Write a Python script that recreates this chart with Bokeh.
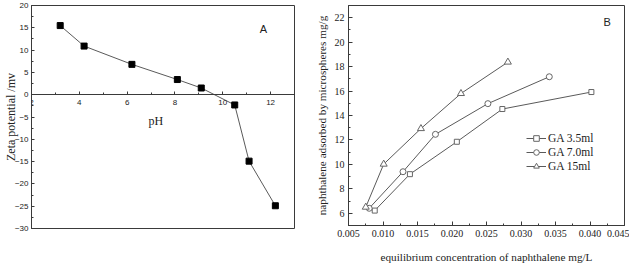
from bokeh.plotting import figure
from bokeh.models import (Range1d, SingleIntervalTicker, Label, Legend, LegendItem,
                          PrintfTickFormatter)
from bokeh.layouts import row
from bokeh.embed import file_html
from bokeh.resources import INLINE

# Panel A data
pH = [3.2, 4.2, 6.2, 8.1, 9.1, 10.5, 11.1, 12.2]
zeta = [15.5, 10.9, 6.8, 3.4, 1.5, -2.3, -14.9, -24.9]

# Panel B data
conc_35 = [0.0088, 0.0139, 0.0207, 0.0273, 0.0402]
ads_35 = [6.22, 9.2, 11.85, 14.53, 15.92]
conc_70 = [0.0080, 0.0129, 0.0176, 0.0252, 0.0341]
ads_70 = [6.41, 9.4, 12.46, 14.97, 17.17]
conc_15 = [0.0075, 0.0101, 0.0155, 0.0213, 0.0281]
ads_15 = [6.5, 10.02, 12.93, 15.8, 18.37]
series_labels = ["GA 3.5ml", "GA 7.0ml", "GA 15ml"]

AX = "#3a3a3a"
LINE = "#5a5a5a"
TXT = "#222222"
SERIF = "Liberation Serif"
SANS = "Liberation Sans"

# ---------------- Panel A ----------------
pA = figure(frame_width=263, frame_height=223, x_range=Range1d(1.9999, 13), y_range=Range1d(-30, 20),
            output_backend="svg", toolbar_location=None,
            min_border_left=31, min_border_right=18, min_border_top=5, min_border_bottom=30)
pA.grid.visible = False
pA.outline_line_color = AX
pA.outline_line_width = 1

pA.xaxis.ticker = SingleIntervalTicker(interval=2, num_minor_ticks=2)
pA.yaxis.ticker = SingleIntervalTicker(interval=5, num_minor_ticks=2)
pA.xaxis.fixed_location = 0
for ax in (pA.xaxis[0], pA.yaxis[0]):
    ax.axis_line_color = AX
    ax.major_tick_line_color = AX
    ax.minor_tick_line_color = AX
    ax.major_tick_in = 3
    ax.major_tick_out = 0
    ax.minor_tick_in = 2
    ax.minor_tick_out = 0
    ax.major_label_text_font = SANS
    ax.major_label_text_font_size = "8px"
    ax.major_label_text_color = TXT
    ax.axis_label_text_font = SERIF
    ax.axis_label_text_font_style = "normal"
    ax.axis_label_text_font_size = "12px"
    ax.axis_label_text_color = TXT
pA.xaxis.major_label_standoff = 5
pA.yaxis.major_label_standoff = 3
pA.yaxis.axis_label = "Zeta potential /mv"
pA.yaxis.axis_label_standoff = -6

pA.line(pH, zeta, line_color=LINE, line_width=1)
pA.scatter(pH, zeta, marker="square", size=6, fill_color="black", line_color="black")
pA.add_layout(Label(x=7.2, y=-5.8, text="pH", text_font=SERIF, text_font_size="12px",
                    text_align="center", text_baseline="middle", text_color=TXT))
pA.add_layout(Label(x=11.7, y=14.7, text="A", text_font=SANS, text_font_size="11px",
                    text_align="center", text_baseline="middle", text_color=TXT))

# ---------------- Panel B ----------------
pB = figure(frame_width=276, frame_height=220, x_range=Range1d(0.005, 0.045), y_range=Range1d(5, 23),
            output_backend="svg", toolbar_location=None,
            min_border_left=34, min_border_right=5, min_border_top=3, min_border_bottom=38)
pB.grid.visible = False
pB.outline_line_color = AX
pB.outline_line_width = 1

pB.xaxis.ticker = SingleIntervalTicker(interval=0.005, num_minor_ticks=2)
pB.yaxis.ticker = SingleIntervalTicker(interval=2, num_minor_ticks=2)
pB.xaxis.formatter = PrintfTickFormatter(format="%.3f")
for ax in (pB.xaxis[0], pB.yaxis[0]):
    ax.axis_line_color = AX
    ax.major_tick_line_color = AX
    ax.minor_tick_line_color = AX
    ax.major_tick_in = 4
    ax.major_tick_out = 0
    ax.minor_tick_in = 2
    ax.minor_tick_out = 0
    ax.major_label_text_font = SERIF
    ax.major_label_text_font_size = "10px"
    ax.major_label_text_color = TXT
    ax.axis_label_text_font = SERIF
    ax.axis_label_text_font_style = "normal"
    ax.axis_label_text_font_size = "11.2px"
    ax.axis_label_text_color = TXT
pB.xaxis.major_label_standoff = 4
pB.xaxis.axis_label = "equilibrium concentration of naphthalene mg/L"
pB.xaxis.axis_label_standoff = 11
pB.yaxis.major_label_standoff = 4
pB.yaxis.axis_label = "naphthalene adsorbed by microspheres mg/g"
pB.yaxis.axis_label_standoff = 4

items = []
for xs, ys, mk, sz, lab in [(conc_35, ads_35, "square", 5, series_labels[0]),
                            (conc_70, ads_70, "circle", 6, series_labels[1]),
                            (conc_15, ads_15, "triangle", 7, series_labels[2])]:
    l = pB.line(xs, ys, line_color=LINE, line_width=1)
    s = pB.scatter(xs, ys, marker=mk, size=sz, fill_color="white", line_color="#666666", line_width=1)
    items.append(LegendItem(label=lab, renderers=[l, s]))

legend = Legend(items=items, location=(178, 52), orientation="vertical",
                border_line_color=None, background_fill_alpha=0,
                padding=0, margin=0, spacing=0, glyph_width=20, glyph_height=14,
                label_height=14, label_standoff=2,
                label_text_font=SERIF, label_text_font_size="11.5px", label_text_color=TXT)
pB.add_layout(legend, "center")
pB.add_layout(Label(x=0.0425, y=21.65, text="B", text_font=SANS, text_font_size="11px",
                    text_align="center", text_baseline="middle", text_color=TXT))

layout = row(pA, pB)
open("out.html", "w").write(file_html(layout, INLINE))
